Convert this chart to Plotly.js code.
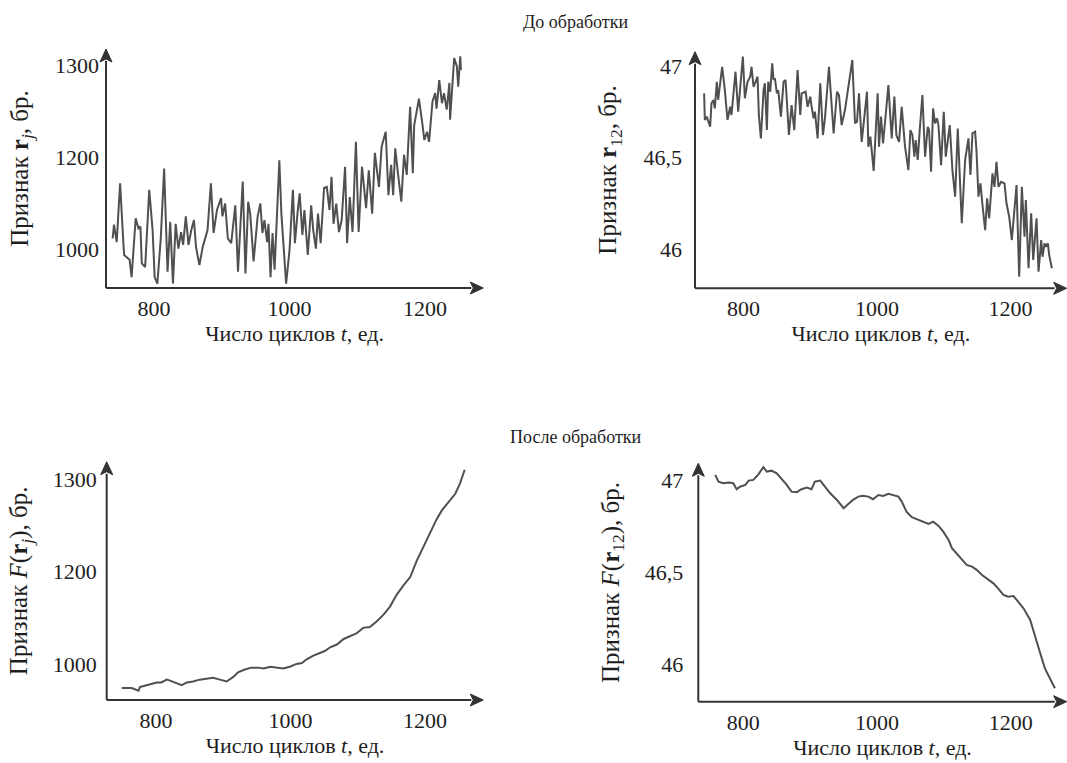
<!DOCTYPE html>
<html>
<head>
<meta charset="utf-8">
<script src="https://cdn.plot.ly/plotly-3.0.1.min.js"></script>
<style>html,body{margin:0;padding:0;background:#fff;}#chart{width:1067px;height:763px;}</style>
</head>
<body>
<div id="chart"></div>
<script>
// ---- Data ----
// Top-left: raw feature r_j (scale of drawn axis; bottom label reads "1000")
const rawRjT = [739,741,745,750,755,756,764,767,773,777,780,782,787,793,798,801,805,810,815,820,824,828,832,836,840,843,847,851,855,859,862,867,872,875,879,884,888,893,899,901,905,909,914,920,924,931,935,939,942,947,953,957,960,963,967,969,972,975,978,985,988,995,1000,1005,1008,1012,1015,1019,1022,1027,1032,1035,1039,1042,1046,1051,1055,1059,1062,1065,1069,1073,1077,1082,1085,1089,1093,1098,1102,1107,1113,1117,1122,1126,1132,1136,1142,1146,1150,1153,1156,1160,1165,1169,1173,1178,1182,1184,1191,1196,1199,1203,1206,1211,1215,1217,1221,1225,1228,1232,1236,1237,1243,1247,1249,1252,1253];
const rawRjV = [1112,1127,1108,1172,1105,1094,1089,1070,1134,1123,1125,1085,1081,1165,1121,1070,1063,1112,1188,1076,1130,1063,1128,1101,1119,1105,1136,1105,1121,1132,1103,1083,1103,1112,1121,1172,1118,1143,1156,1136,1150,1112,1107,1148,1076,1174,1074,1152,1139,1087,1136,1150,1118,1132,1108,1128,1070,1118,1078,1197,1139,1063,1099,1165,1107,1141,1161,1116,1143,1094,1148,1121,1101,1139,1107,1167,1168,1143,1179,1128,1150,1119,1132,1190,1107,1157,1119,1217,1119,1190,1145,1186,1139,1205,1168,1212,1228,1159,1192,1159,1210,1183,1152,1203,1181,1255,1183,1235,1264,1237,1219,1228,1217,1261,1270,1253,1284,1259,1270,1252,1281,1241,1308,1299,1277,1310,1295];

// Top-right: raw feature r_12
const rawR12T = [741,742,745,747,750,752,755,757,760,762,768,772,776,780,782,788,792,799,802,806,810,812,815,818,821,823,826,830,832,835,837,840,843,845,847,850,852,856,860,863,868,872,876,881,885,887,893,896,900,902,905,907,911,915,919,922,928,935,940,943,947,952,958,963,967,970,973,977,980,985,987,990,992,995,1001,1003,1006,1009,1013,1017,1022,1026,1029,1033,1037,1042,1047,1050,1053,1056,1058,1061,1064,1068,1072,1076,1078,1081,1084,1087,1090,1092,1096,1100,1103,1109,1113,1117,1121,1124,1127,1132,1137,1140,1143,1147,1149,1152,1155,1158,1162,1165,1168,1173,1176,1179,1182,1186,1191,1194,1198,1202,1206,1209,1213,1217,1221,1223,1227,1231,1234,1239,1242,1246,1248,1251,1253,1256,1258,1262];
const rawR12V = [46.851,46.706,46.724,46.696,46.669,46.797,46.815,46.769,46.914,46.815,46.996,46.869,46.706,46.778,46.733,46.969,46.751,47.051,46.824,46.914,46.942,46.996,46.887,46.914,46.942,46.733,46.606,46.869,46.906,46.651,46.914,46.860,47.015,46.924,46.933,46.851,46.869,46.724,46.914,46.924,46.624,46.787,46.651,46.978,46.733,46.851,46.860,46.778,46.833,46.778,46.715,46.751,46.606,46.906,46.624,46.715,46.996,46.633,46.860,46.842,46.678,46.760,46.906,47.033,46.688,46.696,46.851,46.587,46.688,46.860,46.560,46.615,46.542,46.429,46.851,46.560,46.724,46.579,46.733,46.896,46.606,46.833,46.624,46.587,46.778,46.560,46.433,46.651,46.624,46.506,46.597,46.488,46.651,46.842,46.506,46.669,46.651,46.424,46.769,46.688,46.715,46.678,46.460,46.751,46.506,46.678,46.433,46.288,46.660,46.379,46.143,46.488,46.606,46.406,46.633,46.642,46.542,46.288,46.361,46.243,46.106,46.279,46.170,46.415,46.342,46.478,46.342,46.369,46.361,46.252,46.179,46.052,46.233,46.351,45.852,46.342,46.070,46.270,45.898,46.197,45.943,46.170,45.879,46.052,45.961,46.034,46.015,46.034,45.970,45.898];

// Bottom-left: processed F(r_j)
const fRjT = [749,764,774,776,786,794,801,808,816,821,828,838,846,855,865,875,885,895,905,915,922,932,942,952,960,970,980,989,999,1009,1017,1024,1034,1044,1051,1059,1069,1079,1088,1098,1108,1118,1128,1138,1148,1158,1168,1178,1188,1198,1207,1217,1225,1235,1245,1252,1259];
const fRjV = [1074,1074,1071,1075,1077,1079,1080,1080,1083,1082,1080,1077,1080,1081,1083,1084,1085,1083,1081,1086,1091,1094,1096,1096,1095,1097,1096,1095,1097,1100,1101,1105,1109,1112,1114,1118,1121,1127,1130,1133,1139,1140,1146,1153,1162,1175,1185,1194,1212,1227,1241,1256,1266,1275,1284,1295,1310];

// Bottom-right: processed F(r_12)
const fR12T = [758,763,770,778,785,790,795,803,808,815,822,830,835,842,850,857,865,872,880,887,895,902,907,915,922,930,940,950,957,964,972,979,987,994,1002,1009,1017,1024,1032,1037,1044,1052,1059,1069,1077,1084,1092,1099,1107,1112,1119,1127,1134,1142,1149,1157,1164,1174,1181,1189,1196,1204,1211,1219,1229,1236,1244,1251,1259,1266];
const fR12V = [47.030,46.993,46.985,46.988,46.985,46.952,46.966,46.976,46.999,47.003,47.030,47.072,47.048,47.053,47.039,47.012,46.976,46.939,46.936,46.952,46.961,46.952,46.993,46.999,46.966,46.930,46.894,46.849,46.872,46.894,46.912,46.916,46.912,46.898,46.921,46.916,46.927,46.921,46.912,46.885,46.830,46.800,46.789,46.776,46.764,46.776,46.753,46.722,46.677,46.632,46.604,46.572,46.541,46.532,46.514,46.486,46.468,46.441,46.414,46.378,46.368,46.372,46.341,46.305,46.242,46.151,46.061,45.979,45.925,45.871];

// Tick labels
const xTickVals = [800, 1000, 1200];
const xTickText = ['800', '1000', '1200'];
const rjTickVals = [1100, 1200, 1300];
const rjTickText = ['1000', '1200', '1300'];
const r12TickVals = [46, 46.5, 47];
const r12TickText = ['46', '46,5', '47'];

// Texts
const sectionTop = 'До обработки';
const sectionBottom = 'После обработки';
const xTitle = 'Число циклов <i>t</i>, ед.';
const yTitles = [
  'Признак <b>r</b><sub><i>j</i></sub>, бр.',
  'Признак <b>r</b><sub>12</sub>, бр.',
  'Признак <i>F</i>(<b>r</b><sub><i>j</i></sub>), бр.',
  'Признак <i>F</i>(<b>r</b><sub>12</sub>), бр.'
];

// ---- Layout helpers ----
const W = 1067, H = 763;
const fx = p => p / W;
const fy = p => 1 - p / H;
const FONT = 'Liberation Serif';
const INK = '#1e1e1e';
const AX = '#333333';
const lineStyle = {color: '#505050', width: 2};

const panels = [
  {x: [106, 483.3], y: [288, 49], xr: [729.2, 1286], yr: [1058.2, 1317.9], tv: rjTickVals, tt: rjTickText, ystand: 6, ytstand: 19},
  {x: [695, 1066.7], y: [288.3, 51.7], xr: [727.3, 1284.2], yr: [45.789, 47.078], tv: r12TickVals, tt: r12TickText, ystand: 12, ytstand: 19},
  {x: [106.7, 483.3], y: [700, 461.7], xr: [726.7, 1286.7], yr: [1061, 1318.7], tv: rjTickVals, tt: rjTickText, ystand: 9, ytstand: 17},
  {x: [698.3, 1066.7], y: [701.7, 463.3], xr: [732.7, 1283.6], yr: [45.798, 47.093], tv: r12TickVals, tt: r12TickText, ystand: 14, ytstand: 18}
];

const series = [[rawRjT, rawRjV], [rawR12T, rawR12V], [fRjT, fRjV], [fR12T, fR12V]];

const data = series.map((s, i) => ({
  type: 'scatter', mode: 'lines', x: s[0], y: s[1],
  xaxis: i === 0 ? 'x' : 'x' + (i + 1),
  yaxis: i === 0 ? 'y' : 'y' + (i + 1),
  line: lineStyle, hoverinfo: 'skip', showlegend: false
}));

const layout = {
  width: W, height: H,
  margin: {l: 0, r: 0, t: 0, b: 0},
  paper_bgcolor: '#fff', plot_bgcolor: 'rgba(0,0,0,0)',
  font: {family: FONT, size: 22, color: INK},
  showlegend: false,
  annotations: [],
  shapes: []
};

panels.forEach((p, i) => {
  const k = i === 0 ? '' : String(i + 1);
  layout['xaxis' + k] = {
    domain: [fx(p.x[0]), fx(p.x[1])], range: p.xr, anchor: 'y' + k,
    showgrid: false, zeroline: false, showline: false, ticks: '',
    tickmode: 'array', tickvals: xTickVals, ticktext: xTickText,
    tickfont: {family: FONT, size: 22, color: INK}, ticklabelstandoff: 5, fixedrange: true,
    title: {text: xTitle, standoff: 2, font: {family: FONT, size: 22, color: INK}}
  };
  layout['yaxis' + k] = {
    domain: [fy(p.y[0]), fy(p.y[1])], range: p.yr, anchor: 'x' + k,
    showgrid: false, zeroline: false, showline: false, ticks: '',
    tickmode: 'array', tickvals: p.tv, ticktext: p.tt,
    tickfont: {family: FONT, size: 22, color: INK}, ticklabelstandoff: p.ystand, fixedrange: true,
    title: {text: yTitles[i], standoff: p.ytstand, font: {family: FONT, size: 25, color: INK}}
  };
  const x0 = p.x[0], x1 = p.x[1], y0 = p.y[0], y1 = p.y[1];
  const hl = 13, hw = 6;
  layout.shapes.push({type: 'line', xref: 'paper', yref: 'paper', x0: fx(x0), y0: fy(y0), x1: fx(x1 - hl + 1), y1: fy(y0), line: {color: AX, width: 2}});
  layout.shapes.push({type: 'line', xref: 'paper', yref: 'paper', x0: fx(x0), y0: fy(y0), x1: fx(x0), y1: fy(y1 + hl - 1), line: {color: AX, width: 2}});
  layout.shapes.push({type: 'path', xref: 'paper', yref: 'paper', fillcolor: AX, line: {color: AX, width: 1},
    path: `M ${fx(x1)} ${fy(y0)} L ${fx(x1 - hl)} ${fy(y0 - hw)} L ${fx(x1 - hl + 3)} ${fy(y0)} L ${fx(x1 - hl)} ${fy(y0 + hw)} Z`});
  layout.shapes.push({type: 'path', xref: 'paper', yref: 'paper', fillcolor: AX, line: {color: AX, width: 1},
    path: `M ${fx(x0)} ${fy(y1)} L ${fx(x0 - hw)} ${fy(y1 + hl)} L ${fx(x0)} ${fy(y1 + hl - 3)} L ${fx(x0 + hw)} ${fy(y1 + hl)} Z`});
});

// section titles
layout.annotations.push({xref: 'paper', yref: 'paper', x: fx(575), y: fy(22), xanchor: 'center', yanchor: 'middle',
  text: sectionTop, showarrow: false, font: {family: FONT, size: 18, color: INK}});
layout.annotations.push({xref: 'paper', yref: 'paper', x: fx(576), y: fy(437), xanchor: 'center', yanchor: 'middle',
  text: sectionBottom, showarrow: false, font: {family: FONT, size: 18, color: INK}});

Plotly.newPlot('chart', data, layout, {displayModeBar: false, staticPlot: true});
</script>
</body>
</html>
